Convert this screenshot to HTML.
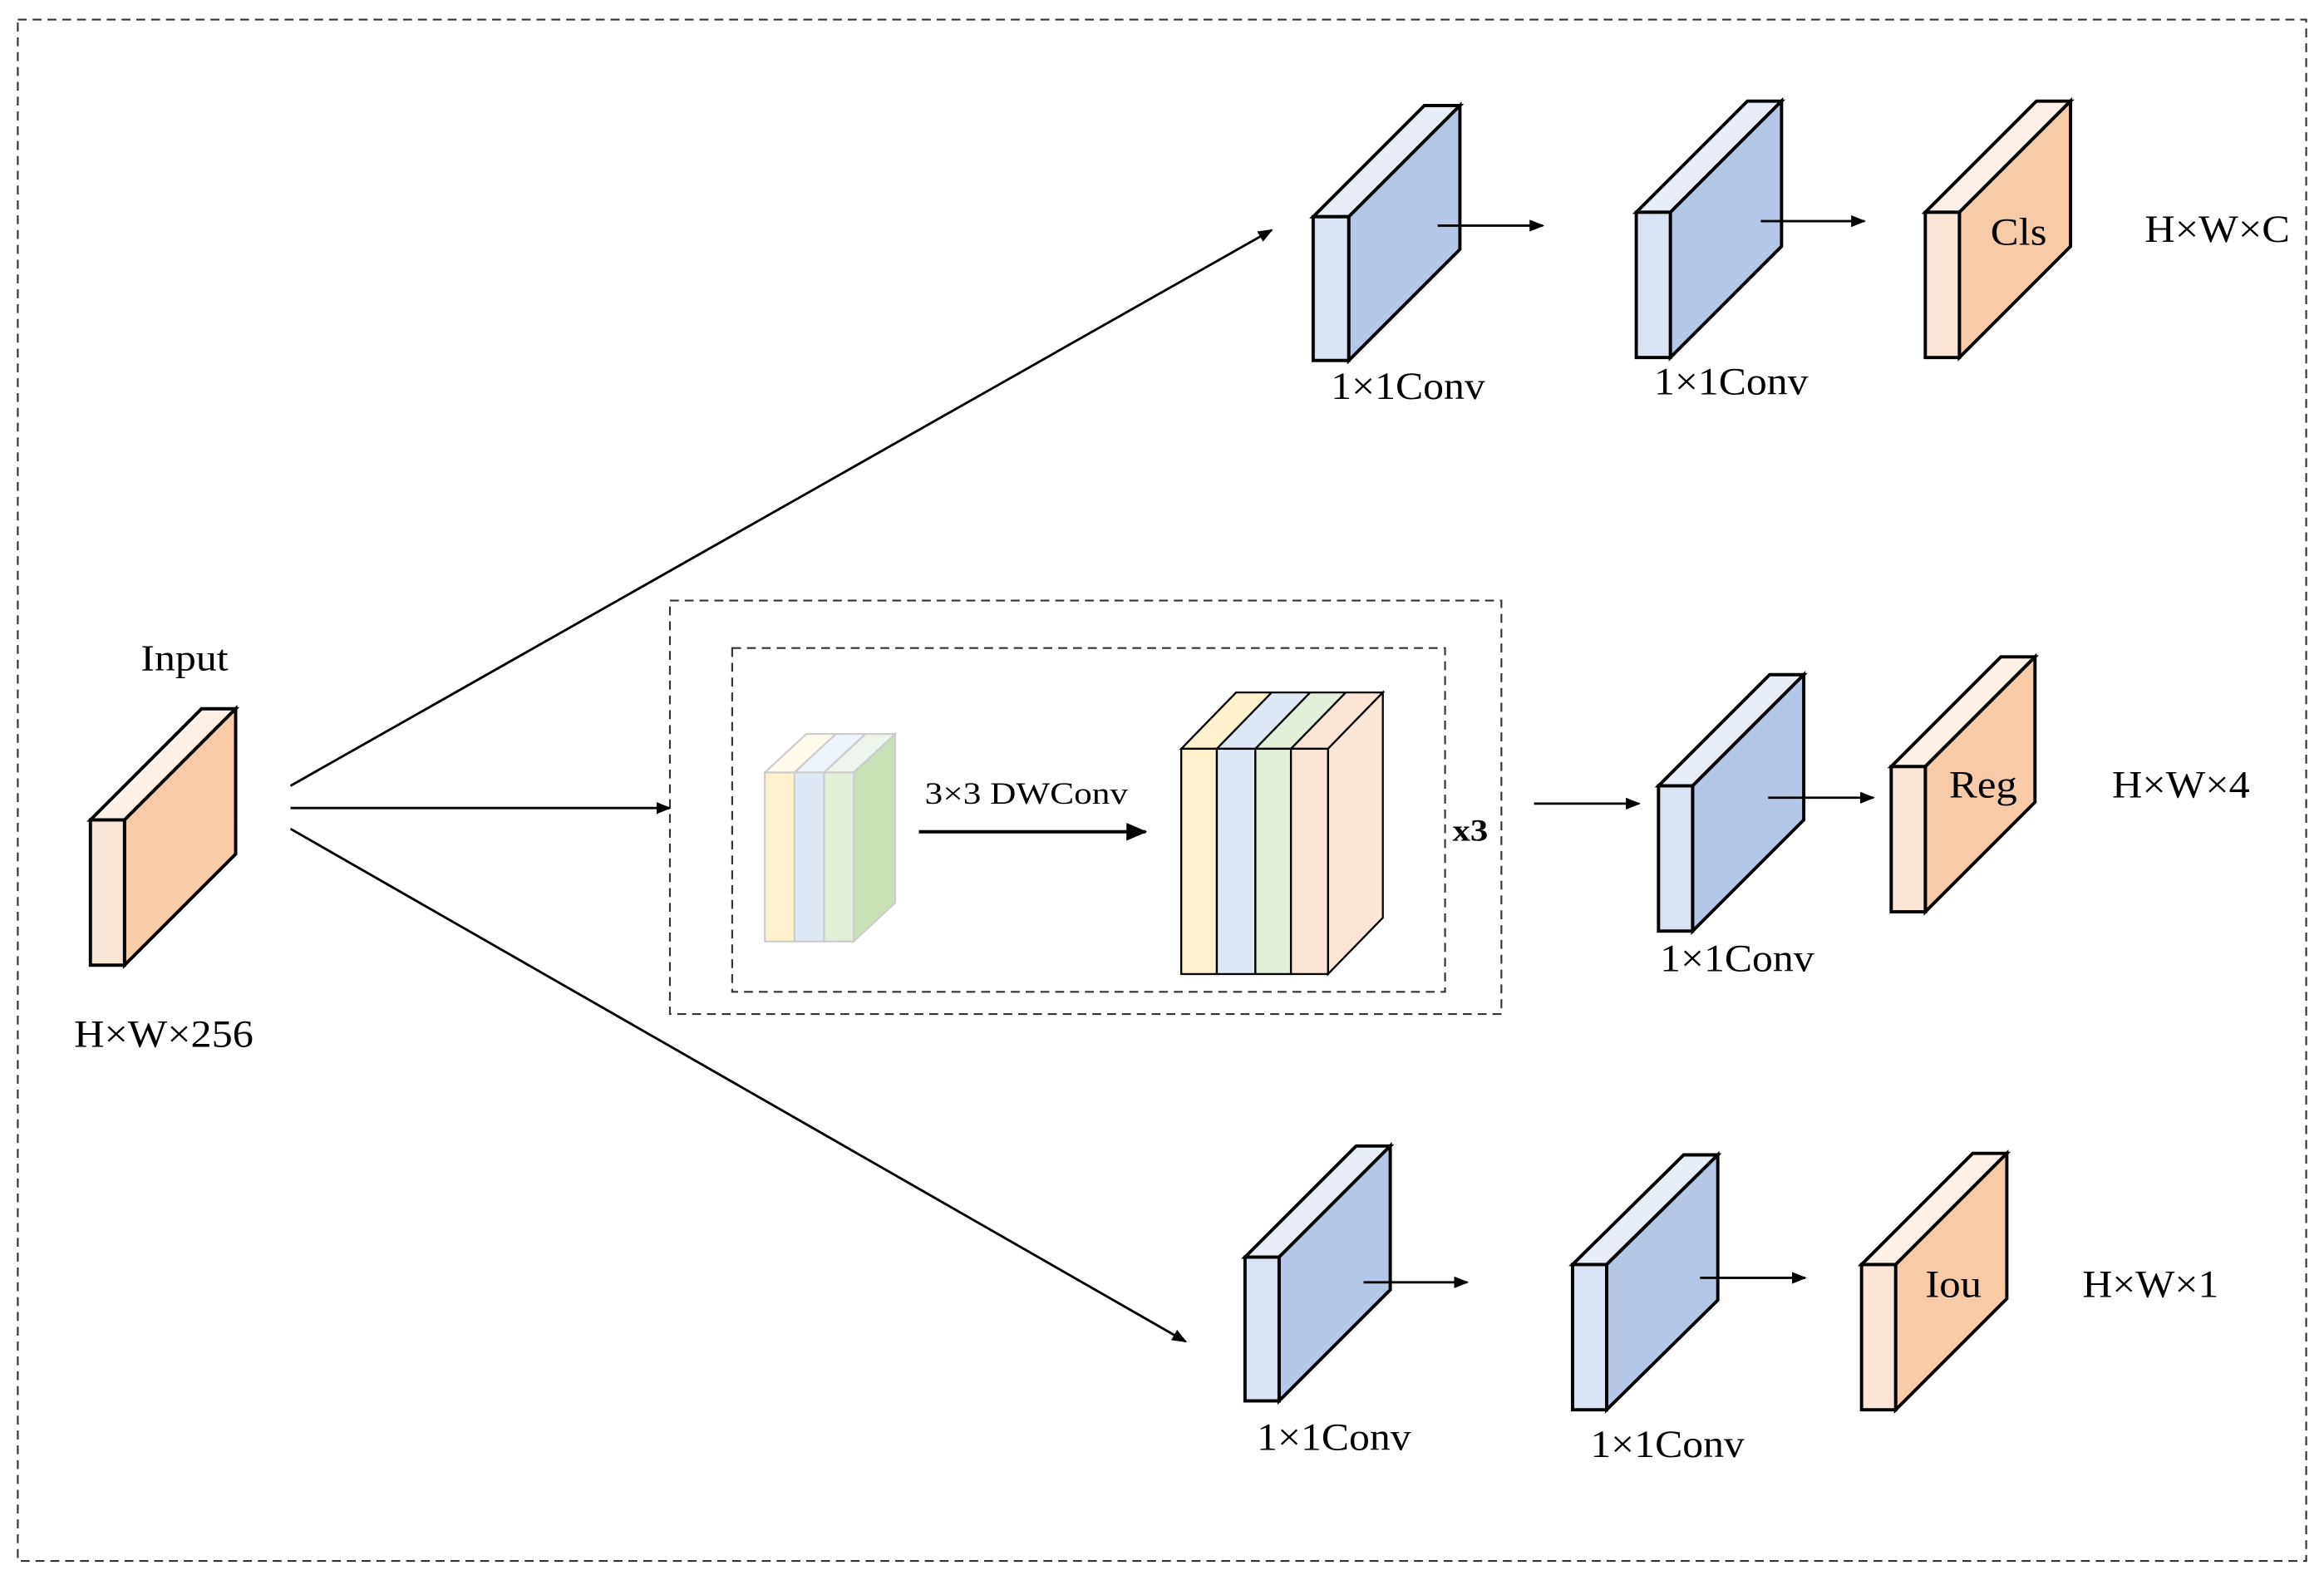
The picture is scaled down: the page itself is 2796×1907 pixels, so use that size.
<!DOCTYPE html>
<html><head><meta charset="utf-8"><style>html,body{margin:0;padding:0;background:#fff}svg{display:block}</style></head><body>
<svg width="2796" height="1907" viewBox="0 0 1568 1069" xmlns="http://www.w3.org/2000/svg" font-family="'Liberation Serif', serif">
<defs><marker id="ah" markerWidth="10" markerHeight="8" refX="9" refY="4" orient="auto" markerUnits="userSpaceOnUse"><path d="M0,0 L10,4 L0,8 Z" fill="#000"/></marker>
<marker id="ah2" markerWidth="14" markerHeight="12" refX="13" refY="6" orient="auto" markerUnits="userSpaceOnUse"><path d="M0,0 L14,6 L0,12 Z" fill="#000"/></marker></defs>
<rect width="1568" height="1069" fill="#fff"/>
<g fill="none" stroke="#333" stroke-width="1.2" stroke-dasharray="6,4">
<rect x="12" y="13" width="1544" height="1040"/>
<rect x="452" y="405" width="561" height="279"/>
<rect x="494" y="437" width="481" height="232"/>
</g>
<g stroke="#000" stroke-width="2.2">
<polygon points="61,553 136,478 159,478 84,553" fill="#fdf0e7"/><polygon points="84,553 159,478 159,576 84,651" fill="#f8cba6"/><rect x="61" y="553" width="23" height="98" fill="#fbe5d6"/>
<polygon points="886,146 961,71 985,71 910,146" fill="#e8eef8"/><polygon points="910,146 985,71 985,168 910,243" fill="#b4c7e7"/><rect x="886" y="146" width="24" height="97" fill="#dae3f3"/>
<polygon points="1104,143 1179,68 1202,68 1127,143" fill="#e8eef8"/><polygon points="1127,143 1202,68 1202,166 1127,241" fill="#b4c7e7"/><rect x="1104" y="143" width="23" height="98" fill="#dae3f3"/>
<polygon points="1299,143 1374,68 1397,68 1322,143" fill="#fdf0e7"/><polygon points="1322,143 1397,68 1397,166 1322,241" fill="#f8cba6"/><rect x="1299" y="143" width="23" height="98" fill="#fbe5d6"/>
<polygon points="1119,530 1194,455 1217,455 1142,530" fill="#e8eef8"/><polygon points="1142,530 1217,455 1217,553 1142,628" fill="#b4c7e7"/><rect x="1119" y="530" width="23" height="98" fill="#dae3f3"/>
<polygon points="1276,517 1350,443 1373,443 1299,517" fill="#fdf0e7"/><polygon points="1299,517 1373,443 1373,541 1299,615" fill="#f8cba6"/><rect x="1276" y="517" width="23" height="98" fill="#fbe5d6"/>
<polygon points="840,848 915,773 938,773 863,848" fill="#e8eef8"/><polygon points="863,848 938,773 938,870 863,945" fill="#b4c7e7"/><rect x="840" y="848" width="23" height="97" fill="#dae3f3"/>
<polygon points="1061,853 1136,779 1159,779 1084,853" fill="#e8eef8"/><polygon points="1084,853 1159,779 1159,877 1084,951" fill="#b4c7e7"/><rect x="1061" y="853" width="23" height="98" fill="#dae3f3"/>
<polygon points="1256,853 1331,778 1354,778 1279,853" fill="#fdf0e7"/><polygon points="1279,853 1354,778 1354,876 1279,951" fill="#f8cba6"/><rect x="1256" y="853" width="23" height="98" fill="#fbe5d6"/>
</g>
<g stroke="#ccc" stroke-width="1.2">
<polygon points="516,521 544,495 564,495 536,521" fill="#fef9ea"/>
<polygon points="536,521 564,495 584,495 556,521" fill="#eef4fb"/>
<polygon points="556,521 584,495 604,495 576,521" fill="#eef5ea"/>
<polygon points="576,521 604,495 604,609 576,635" fill="#c7e0b5"/>
<rect x="516" y="521" width="20" height="114" fill="#fff2cc"/>
<rect x="536" y="521" width="20" height="114" fill="#dee9f5"/>
<rect x="556" y="521" width="20" height="114" fill="#e2efd9"/>
</g>
<g stroke="#000" stroke-width="1.3">
<polygon points="797,505 834,467 858,467 821,505" fill="#fff2cc"/>
<polygon points="821,505 858,467 884,467 847,505" fill="#dee9f5"/>
<polygon points="847,505 884,467 908,467 871,505" fill="#e2efd9"/>
<polygon points="871,505 908,467 933,467 896,505" fill="#fbe5d6"/>
<polygon points="896,505 933,467 933,619 896,657" fill="#fbe5d6"/>
<rect x="797" y="505" width="24" height="152" fill="#fff2cc"/>
<rect x="821" y="505" width="26" height="152" fill="#dee9f5"/>
<rect x="847" y="505" width="24" height="152" fill="#e2efd9"/>
<rect x="871" y="505" width="25" height="152" fill="#fbe5d6"/>
</g>
<g stroke="#000" stroke-width="1.6" fill="none" marker-end="url(#ah)">
<line x1="196" y1="530" x2="858" y2="155"/>
<line x1="196" y1="545" x2="452" y2="545"/>
<line x1="196" y1="559" x2="800" y2="905"/>
<line x1="970" y1="152" x2="1041" y2="152"/>
<line x1="1188" y1="149" x2="1258" y2="149"/>
<line x1="1035" y1="542" x2="1106" y2="542"/>
<line x1="1193" y1="538" x2="1264" y2="538"/>
<line x1="920" y1="865" x2="990" y2="865"/>
<line x1="1147" y1="862" x2="1218" y2="862"/>
</g>
<line x1="620" y1="561" x2="773" y2="561" stroke="#000" stroke-width="2.2" marker-end="url(#ah2)"/>
<g fill="#000" font-size="26" lengthAdjust="spacingAndGlyphs">
<text x="95" y="452" font-size="25" textLength="59" lengthAdjust="spacingAndGlyphs">Input</text>
<text x="50" y="706" textLength="121" lengthAdjust="spacingAndGlyphs">H×W×256</text>
<text x="898" y="269" textLength="104" lengthAdjust="spacingAndGlyphs">1×1Conv</text>
<text x="1116" y="266" textLength="104" lengthAdjust="spacingAndGlyphs">1×1Conv</text>
<text x="1120" y="655" textLength="104" lengthAdjust="spacingAndGlyphs">1×1Conv</text>
<text x="848" y="978" textLength="104" lengthAdjust="spacingAndGlyphs">1×1Conv</text>
<text x="1073" y="983" textLength="104" lengthAdjust="spacingAndGlyphs">1×1Conv</text>
<text x="1343" y="165" textLength="38" lengthAdjust="spacingAndGlyphs">Cls</text>
<text x="1315" y="538" textLength="46" lengthAdjust="spacingAndGlyphs">Reg</text>
<text x="1299" y="875" textLength="38" lengthAdjust="spacingAndGlyphs">Iou</text>
<text x="1447" y="163" textLength="98" lengthAdjust="spacingAndGlyphs">H×W×C</text>
<text x="1425" y="538" textLength="93" lengthAdjust="spacingAndGlyphs">H×W×4</text>
<text x="1405" y="875" textLength="92" lengthAdjust="spacingAndGlyphs">H×W×1</text>
<text x="624" y="542" font-size="21" textLength="137" lengthAdjust="spacingAndGlyphs">3×3 DWConv</text>
<text x="980" y="567" font-size="21" font-weight="bold" textLength="24" lengthAdjust="spacingAndGlyphs">x3</text>
</g>
</svg>
</body></html>
